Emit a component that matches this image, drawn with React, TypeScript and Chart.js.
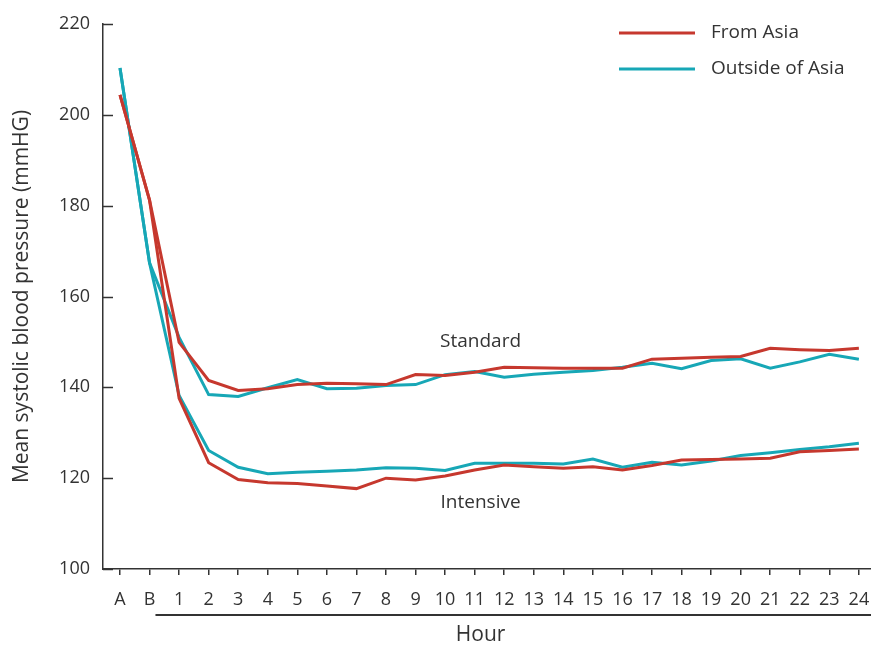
import React, { useEffect, useRef } from "react";
import { Chart, registerables } from "chart.js";

Chart.register(...registerables);

const hourLabels: string[] = ["A", "B", "1", "2", "3", "4", "5", "6", "7", "8", "9", "10", "11", "12", "13", "14", "15", "16", "17", "18", "19", "20", "21", "22", "23", "24"];

const fromAsiaStandard: number[] = [204.4, 181.2, 149.9, 141.5, 139.3, 139.7, 140.6, 140.9, 140.8, 140.6, 142.8, 142.6, 143.3, 144.4, 144.3, 144.2, 144.2, 144.2, 146.2, 146.4, 146.6, 146.8, 148.6, 148.3, 148.1, 148.6];
const fromAsiaIntensive: number[] = [204.4, 181.2, 137.6, 123.4, 119.7, 119.0, 118.8, 118.3, 117.7, 120.0, 119.6, 120.5, 121.8, 122.9, 122.5, 122.2, 122.5, 121.8, 122.8, 124.0, 124.1, 124.2, 124.4, 125.8, 126.1, 126.4];
const outsideStandard: number[] = [210.3, 167.4, 151.0, 138.4, 138.0, 139.9, 141.7, 139.7, 139.8, 140.4, 140.6, 142.8, 143.5, 142.2, 142.9, 143.3, 143.7, 144.4, 145.3, 144.1, 145.9, 146.3, 144.2, 145.6, 147.3, 146.2];
const outsideIntensive: number[] = [210.3, 167.4, 138.2, 126.1, 122.4, 121.0, 121.3, 121.5, 121.8, 122.3, 122.2, 121.7, 123.3, 123.3, 123.3, 123.1, 124.2, 122.4, 123.5, 122.9, 123.8, 125.0, 125.6, 126.3, 126.9, 127.7];

const legendNames: string[] = ["From Asia", "Outside of Asia"];
const yTitle = "Mean systolic blood pressure (mmHG)";
const xTitle = "Hour";
const groupNames: string[] = ["Standard", "Intensive"];

const RED = "#c6382e";
const TEAL = "#17a7b6";
const AXIS = "#333333";
const FONT = "'Open Sans', 'DejaVu Sans', sans-serif";

const toPoints = (arr: number[]) => arr.map((y, i) => ({ x: i, y }));

export default function App() {
  const ref = useRef<HTMLCanvasElement | null>(null);

  useEffect(() => {
    if (!ref.current) return;
    const overlay = {
      id: "overlay",
      afterDraw(chart: any) {
        const ctx = chart.ctx;
        const xs = chart.scales.x;
        const ys = chart.scales.y;
        const area = chart.chartArea;
        ctx.save();
        // inward y ticks
        ctx.strokeStyle = AXIS;
        ctx.lineWidth = 1.5;
        for (let v = 100; v <= 220; v += 20) {
          const py = Math.round(ys.getPixelForValue(v)) + 0.5;
          ctx.beginPath();
          ctx.moveTo(area.left, py);
          ctx.lineTo(area.left + 10, py);
          ctx.stroke();
        }
        // hour underline
        const uy = 615;
        ctx.lineWidth = 2;
        ctx.beginPath();
        ctx.moveTo(xs.getPixelForValue(1.2), uy);
        ctx.lineTo(area.right, uy);
        ctx.stroke();
        // Hour title
        ctx.fillStyle = AXIS;
        ctx.font = `21px ${FONT}`;
        ctx.textAlign = "center";
        ctx.textBaseline = "middle";
        ctx.fillText(xTitle, xs.getPixelForValue(12.2), 635);
        // group annotations
        ctx.font = `19px ${FONT}`;
        ctx.fillText(groupNames[0], xs.getPixelForValue(12.2), ys.getPixelForValue(150.1));
        ctx.fillText(groupNames[1], xs.getPixelForValue(12.2), ys.getPixelForValue(114.7));
        // legend
        const cols = [RED, TEAL];
        const ly = [33, 69];
        ctx.textAlign = "left";
        for (let i = 0; i < 2; i++) {
          ctx.strokeStyle = cols[i];
          ctx.lineWidth = 3;
          ctx.beginPath();
          ctx.moveTo(619, ly[i]);
          ctx.lineTo(695, ly[i]);
          ctx.stroke();
          ctx.fillStyle = AXIS;
          ctx.fillText(legendNames[i], 711, ly[i]);
        }
        ctx.restore();
      },
    };

    const mk = (label: string, data: number[], color: string) => ({
      label,
      data: toPoints(data),
      borderColor: color,
      backgroundColor: color,
      borderWidth: 3,
      pointRadius: 0,
      tension: 0,
      fill: false,
    });

    const chart = new Chart(ref.current, {
      type: "line",
      data: {
        datasets: [
          mk(legendNames[0] + " – " + groupNames[0], fromAsiaStandard, RED),
          mk(legendNames[0] + " – " + groupNames[1], fromAsiaIntensive, RED),
          mk(legendNames[1] + " – " + groupNames[0], outsideStandard, TEAL),
          mk(legendNames[1] + " – " + groupNames[1], outsideIntensive, TEAL),
        ],
      },
      options: {
        animation: false,
        responsive: false,
        devicePixelRatio: 1,
        layout: { padding: { top: 24, left: 0, right: 0, bottom: 0 } },
        plugins: { legend: { display: false }, tooltip: { enabled: false } },
        scales: {
          x: {
            type: "linear",
            min: -0.575,
            max: 25.41,
            afterBuildTicks: (s: any) => {
              s.ticks = hourLabels.map((_, i) => ({ value: i }));
            },
            afterFit: (s: any) => {
              s.height = 76;
              s.paddingLeft = 0;
              s.paddingRight = 0;
            },
            ticks: {
              autoSkip: false,
              maxRotation: 0,
              color: AXIS,
              padding: 14,
              font: { family: FONT, size: 18 },
              callback: (v: any) => hourLabels[Math.round(Number(v))] ?? "",
            },
            grid: { drawOnChartArea: false, drawTicks: true, tickLength: 6, color: AXIS, lineWidth: 1.5 },
            border: { color: AXIS, width: 1.5 },
          },
          y: {
            type: "linear",
            min: 100,
            max: 220,
            afterFit: (s: any) => {
              s.width = 103;
              s.paddingTop = 0;
              s.paddingBottom = 0;
            },
            ticks: {
              stepSize: 20,
              color: AXIS,
              padding: 13,
              font: { family: FONT, size: 18 },
            },
            grid: { drawOnChartArea: false, drawTicks: false },
            border: { color: AXIS, width: 1.5 },
            title: {
              display: true,
              text: yTitle,
              color: AXIS,
              font: { family: FONT, size: 21 },
              padding: { top: 9, bottom: 0 },
            },
          },
        },
      },
      plugins: [overlay],
    } as any);

    return () => chart.destroy();
  }, []);

  return (
    <div style={{ position: "absolute", left: 0, top: 0, width: 871, height: 645, background: "#fff" }}>
      <canvas ref={ref} width={871} height={645} />
    </div>
  );
}
